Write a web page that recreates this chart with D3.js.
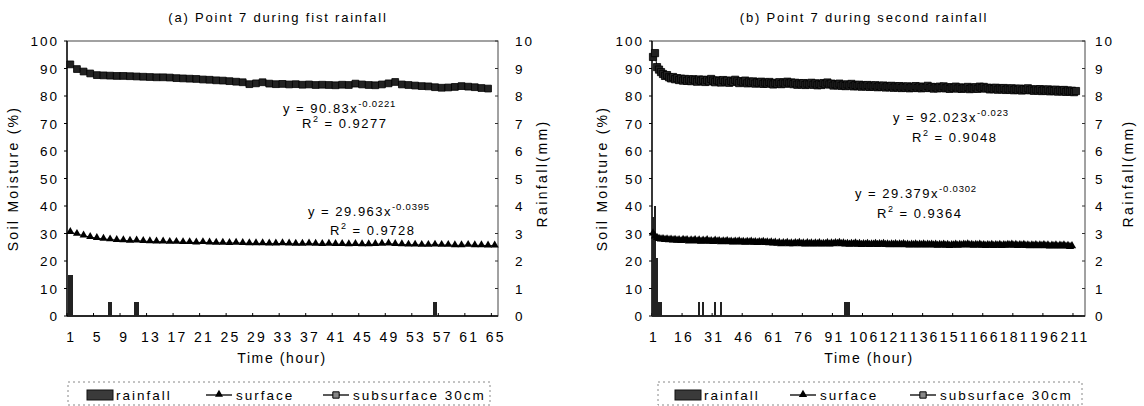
<!DOCTYPE html>
<html>
<head>
<meta charset="utf-8">
<script src="https://cdn.jsdelivr.net/npm/d3@7"></script>
<style>
body { margin: 0; background: #fff; }
text { font-family: "Liberation Sans", Arial, sans-serif; fill: #000; }
</style>
</head>
<body>
<div id="chart"></div>
<script>
// Dimensions
const width = 1144;
const height = 406;

// Axis labels
const moistureTicks = [0, 10, 20, 30, 40, 50, 60, 70, 80, 90, 100];
const rainTicks = [0, 1, 2, 3, 4, 5, 6, 7, 8, 9, 10];
const hourTicksA = [1, 5, 9, 13, 17, 21, 25, 29, 33, 37, 41, 45, 49, 53, 57, 61, 65];
const hourTicksB = [1, 16, 31, 46, 61, 76, 91, 106, 121, 136, 151, 166, 181, 196, 211];

// (a) first rainfall - hourly values from hour 1
const surfaceA = [
  30.5, 29.8, 29.2, 28.7, 28.3, 28.0, 27.8, 27.6, 27.5, 27.3,
  27.4, 27.2, 27.1, 27.0, 27.0, 26.9, 26.9, 26.8, 26.8, 26.7,
  26.8, 26.7, 26.6, 26.6, 26.5, 26.6, 26.5, 26.4, 26.4, 26.4,
  26.3, 26.3, 26.4, 26.3, 26.2, 26.2, 26.3, 26.2, 26.1, 26.2,
  26.1, 26.1, 26.0, 26.1, 26.0, 26.0, 26.1, 26.2, 26.3, 26.1,
  26.0, 25.9, 25.9, 25.8, 25.8, 25.9, 25.8, 25.8, 25.7, 25.7,
  25.8, 25.7, 25.7, 25.6, 25.6
];
const subsurfaceA = [
  91.5, 89.8, 88.9, 88.2, 87.6, 87.5, 87.4, 87.3, 87.3, 87.2,
  87.1, 87.0, 86.9, 86.8, 86.8, 86.7, 86.5, 86.4, 86.3, 86.2,
  86.0, 85.9, 85.7, 85.6, 85.4, 85.2, 85.0, 84.3, 84.6, 85.0,
  84.5, 84.3, 84.4, 84.2, 84.3, 84.1, 84.2, 84.0, 84.1, 84.0,
  83.9, 84.1, 84.0, 84.5, 84.2, 84.0, 83.9, 84.2, 84.6, 85.1,
  84.2, 84.0, 83.8, 83.6, 83.5, 83.2, 83.0, 83.1, 83.3, 83.6,
  83.4, 83.2, 82.9, 82.7
];
const rainHoursA = [1, 7, 11, 56];
const rainMmA = [1.5, 0.5, 0.5, 0.5];

// (b) second rainfall - hourly values from hour 1
const surfaceB = [
  30.0, 28.9, 28.3, 28.0, 27.8, 27.9, 27.6, 27.8, 27.5, 27.7,
  27.4, 27.6, 27.3, 27.5, 27.2, 27.6, 27.3, 27.5, 27.1, 27.4,
  27.2, 27.5, 27.1, 27.4, 27.0, 27.3, 27.1, 27.5, 27.0, 27.2,
  26.9, 27.3, 27.0, 27.2, 26.8, 27.1, 26.9, 27.2, 26.8, 27.0,
  26.7, 27.0, 26.8, 27.1, 26.7, 26.9, 26.6, 26.9, 26.7, 27.0,
  26.6, 26.8, 26.5, 26.8, 26.6, 26.9, 26.5, 26.7, 26.4, 26.7,
  26.3, 26.6, 26.2, 26.5, 26.1, 26.4, 26.2, 26.5, 26.1, 26.3,
  26.1, 26.4, 26.2, 26.5, 26.1, 26.3, 26.0, 26.4, 26.1, 26.3,
  26.0, 26.3, 26.1, 26.4, 26.0, 26.2, 26.1, 26.4, 26.0, 26.3,
  26.1, 26.4, 26.2, 26.5, 26.1, 26.3, 26.0, 26.2, 25.9, 26.2,
  26.0, 26.3, 25.9, 26.2, 25.8, 26.1, 25.9, 26.2, 25.8, 26.0,
  25.9, 26.2, 25.8, 26.1, 25.9, 26.2, 25.8, 26.0, 25.7, 26.0,
  25.8, 26.1, 25.7, 26.0, 25.8, 26.1, 25.7, 25.9, 25.6, 25.9,
  25.7, 26.0, 25.6, 25.9, 25.7, 26.0, 25.6, 25.9, 25.7, 25.9,
  25.6, 25.9, 25.5, 25.8, 25.6, 25.9, 25.5, 25.8, 25.4, 25.7,
  25.6, 25.9, 25.5, 25.8, 25.6, 25.9, 25.7, 26.0, 25.6, 25.8,
  25.5, 25.8, 25.6, 25.9, 25.5, 25.7, 25.4, 25.7, 25.5, 25.8,
  25.4, 25.7, 25.5, 25.8, 25.4, 25.7, 25.5, 25.8, 25.6, 25.9,
  25.5, 25.8, 25.4, 25.7, 25.5, 25.8, 25.4, 25.6, 25.3, 25.6,
  25.4, 25.7, 25.3, 25.6, 25.4, 25.7, 25.3, 25.6, 25.2, 25.5,
  25.3, 25.6, 25.2, 25.5, 25.3, 25.6, 25.2, 25.4, 25.1, 25.3
];
const subsurfaceB = [
  94.2, 95.6, 90.5, 89.6, 88.7, 88.0, 87.3, 87.6, 86.8, 86.4,
  86.9, 86.1, 86.5, 85.8, 86.3, 85.6, 86.2, 85.5, 86.0, 85.4,
  86.1, 85.7, 85.2, 86.0, 85.5, 85.9, 85.1, 85.8, 85.3, 86.2,
  85.6, 85.0, 85.7, 85.4, 84.9, 85.8, 85.2, 85.6, 84.8, 85.5,
  85.1, 85.9, 85.3, 84.7, 85.4, 85.0, 85.6, 84.6, 85.2, 84.8,
  85.3, 84.5, 85.0, 84.7, 85.2, 84.4, 84.9, 84.5, 85.1, 84.6,
  84.2, 84.8, 84.4, 85.0, 84.3, 84.9, 84.5, 85.2, 84.6, 84.9,
  84.3, 84.8, 84.1, 84.6, 84.2, 84.7, 84.0, 84.5, 84.2, 84.8,
  84.1, 84.6, 83.9, 84.4, 84.0, 84.7, 84.3, 84.9, 84.2, 84.5,
  83.8, 84.3, 83.9, 84.5, 83.7, 84.1, 83.6, 84.2, 83.8, 84.4,
  83.5, 84.0, 83.6, 84.1, 83.4, 83.9, 83.5, 84.0, 83.3, 83.8,
  83.4, 83.9, 83.2, 83.7, 83.3, 83.8, 83.1, 83.6, 83.2, 83.7,
  83.0, 83.5, 83.1, 83.6, 82.9, 83.4, 83.0, 83.5, 82.8, 83.3,
  83.0, 83.6, 82.9, 83.4, 82.8, 83.3, 83.0, 83.7, 82.9, 83.3,
  82.7, 83.2, 82.8, 83.4, 82.9, 83.5, 82.8, 83.1, 82.6, 83.2,
  82.9, 83.4, 82.7, 83.1, 82.6, 83.0, 82.8, 83.3, 82.5, 83.0,
  82.7, 83.2, 82.6, 83.4, 82.9, 83.3, 82.7, 83.0, 82.4, 82.9,
  82.5, 83.0, 82.3, 82.8, 82.4, 82.9, 82.2, 82.7, 82.3, 82.8,
  82.1, 82.6, 82.2, 82.7, 82.0, 82.5, 82.2, 82.8, 82.1, 82.4,
  81.9, 82.4, 82.0, 82.5, 81.8, 82.3, 81.9, 82.4, 81.7, 82.2,
  81.8, 82.3, 81.6, 82.1, 81.7, 82.2, 81.5, 82.0, 81.6, 81.9,
  81.4, 81.8
];
const rainHoursB = [1, 2, 3, 4, 5, 24, 26, 32, 35, 97, 98, 99];
const rainMmB = [3.6, 4.0, 2.1, 0.5, 0.5, 0.5, 0.5, 0.5, 0.5, 0.5, 0.5, 0.5];

// Panel layout
const panels = [
  {
    title: "(a) Point 7 during fist rainfall", titleX: 278,
    x0: 67, x1: 498, y0: 41, y1: 316, nCat: 65,
    hourTicks: hourTicksA, surface: surfaceA, subsurface: subsurfaceA,
    rainHours: rainHoursA, rainMm: rainMmA, barFrac: 0.7,
    moistLabelX: 13, rightLabelX: 515, rainLabelX: 542, timeX: 282,
    triSize: 28, sqSize: 46,
    eqs: [
      { x: 283, y: 113, main: "y = 90.83x", sup: "-0.0221" },
      { x: 302, y: 128, r2: "0.9277" },
      { x: 308, y: 216, main: "y = 29.963x", sup: "-0.0395" },
      { x: 330, y: 235, r2: "0.9728" }
    ],
    legend: { box: [68, 382, 490, 405], sw: 87, surf: 206, sub: 323 }
  },
  {
    title: "(b) Point 7 during second rainfall", titleX: 864,
    x0: 652, x1: 1085, y0: 41, y1: 316, nCat: 216,
    hourTicks: hourTicksB, surface: surfaceB, subsurface: subsurfaceB,
    rainHours: rainHoursB, rainMm: rainMmB, barFrac: 1,
    moistLabelX: 602, rightLabelX: 1095, rainLabelX: 1128, timeX: 869,
    triSize: 30, sqSize: 52,
    eqs: [
      { x: 893, y: 122, main: "y = 92.023x", sup: "-0.023" },
      { x: 912, y: 142, r2: "0.9048" },
      { x: 855, y: 198, main: "y = 29.379x", sup: "-0.0302" },
      { x: 877, y: 218, r2: "0.9364" }
    ],
    legend: { box: [658, 382, 1082, 405], sw: 675, surf: 790, sub: 910 }
  }
];

const svg = d3.select("#chart")
  .append("svg")
  .attr("width", width)
  .attr("height", height);

panels.forEach(p => {
  const g = svg.append("g");
  const cats = d3.range(1, p.nCat + 1);
  const x = d3.scaleBand().domain(cats).range([p.x0, p.x1]);
  const bw = x.bandwidth();
  const cx = h => x(h) + bw / 2;
  const y = d3.scaleLinear().domain([0, 100]).range([p.y1, p.y0]);
  const yR = d3.scaleLinear().domain([0, 10]).range([p.y1, p.y0]);

  // Title
  g.append("text")
    .attr("x", p.titleX).attr("y", 22)
    .attr("text-anchor", "middle")
    .attr("font-size", 13).attr("letter-spacing", 1.8)
    .text(p.title);

  // Plot frame
  g.append("rect")
    .attr("x", p.x0).attr("y", p.y0)
    .attr("width", p.x1 - p.x0).attr("height", p.y1 - p.y0)
    .attr("fill", "none").attr("stroke", "#444").attr("stroke-width", 1);
  g.append("line").attr("x1", p.x0).attr("x2", p.x0).attr("y1", p.y0).attr("y2", p.y1)
    .attr("stroke", "#000").attr("stroke-width", 1.3);
  g.append("line").attr("x1", p.x0).attr("x2", p.x1).attr("y1", p.y1).attr("y2", p.y1)
    .attr("stroke", "#000").attr("stroke-width", 1.3);

  // Left axis labels
  g.selectAll(".ly").data(moistureTicks).join("text")
    .attr("x", p.x0 - 8).attr("y", d => y(d) + 5)
    .attr("text-anchor", "end")
    .attr("font-size", 13.5).attr("letter-spacing", 2)
    .text(d => d);
  g.selectAll(".lt").data(moistureTicks).join("line")
    .attr("x1", p.x0 - 3).attr("x2", p.x0)
    .attr("y1", d => y(d)).attr("y2", d => y(d))
    .attr("stroke", "#000");

  // Right axis labels
  g.selectAll(".ry").data(rainTicks).join("text")
    .attr("x", p.rightLabelX).attr("y", d => yR(d) + 5)
    .attr("font-size", 13.5).attr("letter-spacing", 2)
    .text(d => d);
  g.selectAll(".rt").data(rainTicks).join("line")
    .attr("x1", p.x1 - 3).attr("x2", p.x1)
    .attr("y1", d => yR(d)).attr("y2", d => yR(d))
    .attr("stroke", "#333");

  // X axis
  g.selectAll(".xt").data(p.hourTicks).join("line")
    .attr("x1", d => x(d)).attr("x2", d => x(d))
    .attr("y1", p.y1).attr("y2", p.y1 - 3)
    .attr("stroke", "#000");
  g.selectAll(".xl").data(p.hourTicks).join("text")
    .attr("x", d => cx(d) + 1).attr("y", 342)
    .attr("text-anchor", "middle")
    .attr("font-size", 14).attr("letter-spacing", 2.2)
    .text(d => d);

  // Axis titles
  g.append("text")
    .attr("transform", `translate(${p.moistLabelX + 5},${(p.y0 + p.y1) / 2}) rotate(-90)`)
    .attr("text-anchor", "middle")
    .attr("font-size", 14).attr("letter-spacing", 2.3)
    .text("Soil Moisture (%)");
  g.append("text")
    .attr("transform", `translate(${p.rainLabelX + 5},${(p.y0 + p.y1) / 2 - 5}) rotate(-90)`)
    .attr("text-anchor", "middle")
    .attr("font-size", 14).attr("letter-spacing", 2.4)
    .text("Rainfall(mm)");
  g.append("text")
    .attr("x", p.timeX).attr("y", 363)
    .attr("text-anchor", "middle")
    .attr("font-size", 14).attr("letter-spacing", 1.6)
    .text("Time (hour)");

  // Rainfall bars
  g.selectAll(".bar").data(p.rainHours).join("rect")
    .attr("x", d => x(d) + bw * (1 - p.barFrac) / 2)
    .attr("width", bw * p.barFrac)
    .attr("y", (d, i) => yR(p.rainMm[i]))
    .attr("height", (d, i) => p.y1 - yR(p.rainMm[i]))
    .attr("fill", "#222")
    .attr("shape-rendering", "crispEdges");

  // Lines
  const line = d3.line().x((d, i) => cx(i + 1)).y(d => y(d));
  g.append("path").datum(p.subsurface)
    .attr("d", line).attr("fill", "none").attr("stroke", "#000").attr("stroke-width", 1);
  g.append("path").datum(p.surface)
    .attr("d", line).attr("fill", "none").attr("stroke", "#000").attr("stroke-width", 1);

  // Markers
  const sq = d3.symbol().type(d3.symbolSquare).size(p.sqSize);
  const tri = d3.symbol().type(d3.symbolTriangle).size(p.triSize);
  g.selectAll(".sq").data(p.subsurface).join("path")
    .attr("d", sq)
    .attr("transform", (d, i) => `translate(${cx(i + 1)},${y(d)})`)
    .attr("fill", "#222").attr("stroke", "#000").attr("stroke-width", 0.8);
  g.selectAll(".tri").data(p.surface).join("path")
    .attr("d", tri)
    .attr("transform", (d, i) => `translate(${cx(i + 1)},${y(d) - 0.5})`)
    .attr("fill", "#000");

  // Trend equations
  p.eqs.forEach(e => {
    const t = g.append("text")
      .attr("x", e.x).attr("y", e.y)
      .attr("font-size", 13).attr("letter-spacing", 1.5);
    if (e.main) {
      t.append("tspan").text(e.main);
      t.append("tspan").attr("dy", -6).attr("font-size", 9.5).attr("letter-spacing", 0.8).text(e.sup);
    } else {
      t.append("tspan").text("R");
      t.append("tspan").attr("dy", -6).attr("font-size", 9).text("2");
      t.append("tspan").attr("dy", 6).text(" = " + e.r2);
    }
  });

  // Legend
  const L = p.legend;
  g.append("rect")
    .attr("x", L.box[0]).attr("y", L.box[1])
    .attr("width", L.box[2] - L.box[0]).attr("height", L.box[3] - L.box[1])
    .attr("fill", "none").attr("stroke", "#888").attr("stroke-width", 1)
    .attr("stroke-dasharray", "2,3");
  g.append("rect")
    .attr("x", L.sw).attr("y", 390).attr("width", 26).attr("height", 10)
    .attr("fill", "#3a3a3a").attr("stroke", "#111");
  g.append("text").attr("x", L.sw + 29).attr("y", 400)
    .attr("font-size", 13.5).attr("letter-spacing", 2).text("rainfall");
  g.append("line").attr("x1", L.surf).attr("x2", L.surf + 26).attr("y1", 395).attr("y2", 395)
    .attr("stroke", "#000").attr("stroke-width", 1.3);
  g.append("path").attr("d", tri).attr("transform", `translate(${L.surf + 13},394.5)`).attr("fill", "#000");
  g.append("text").attr("x", L.surf + 30).attr("y", 400)
    .attr("font-size", 13.5).attr("letter-spacing", 2).text("surface");
  g.append("line").attr("x1", L.sub).attr("x2", L.sub + 26).attr("y1", 395).attr("y2", 395)
    .attr("stroke", "#000").attr("stroke-width", 1.3);
  g.append("path").attr("d", d3.symbol().type(d3.symbolSquare).size(40))
    .attr("transform", `translate(${L.sub + 13},395)`)
    .attr("fill", "#888").attr("stroke", "#000");
  g.append("text").attr("x", L.sub + 30).attr("y", 400)
    .attr("font-size", 13.5).attr("letter-spacing", 2).text("subsurface 30cm");
});
</script>
</body>
</html>
